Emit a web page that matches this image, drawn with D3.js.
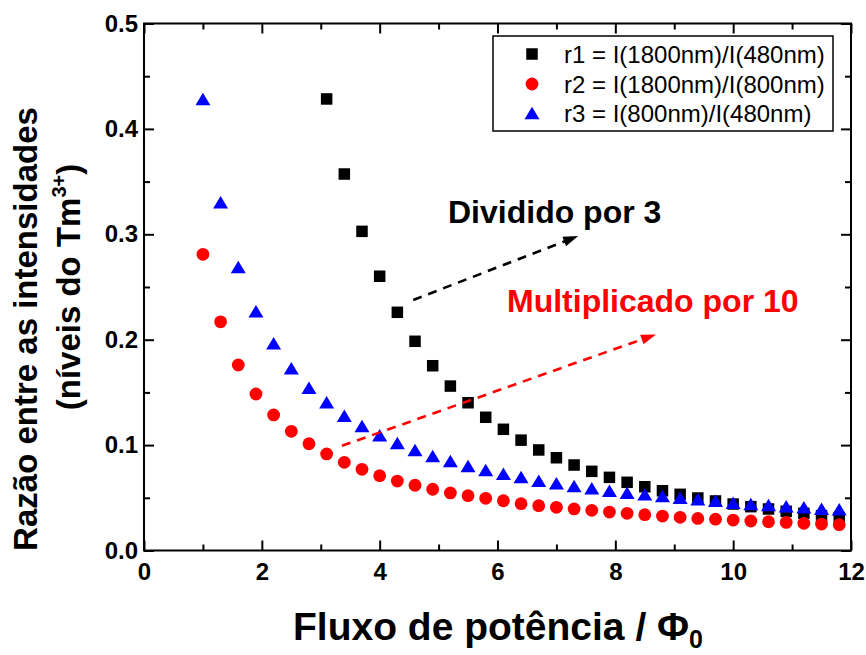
<!DOCTYPE html>
<html><head><meta charset="utf-8">
<script src="https://cdn.jsdelivr.net/npm/d3@7"></script>
<style>body{margin:0;background:#fff}svg{display:block}</style>
</head><body><svg id="c" width="866" height="655"></svg>
<script>
// ---- data ----
const xR1 = [3.1,3.4,3.7,4.0,4.3,4.6,4.9,5.2,5.5,5.8,6.1,6.4,6.7,7.0,7.3,7.6,7.9,8.2,8.5,8.8,9.1,9.4,9.7,10.0,10.3,10.6,10.9,11.2,11.5,11.8];
const r1 = [0.4284,0.3572,0.3028,0.2602,0.226,0.1985,0.1753,0.156,0.1402,0.1264,0.115,0.1047,0.0954,0.088,0.0811,0.0751,0.0694,0.0647,0.0605,0.0567,0.0533,0.0498,0.047,0.0441,0.0416,0.0394,0.0372,0.0353,0.033,0.0311];
const xR23 = [1.0,1.3,1.6,1.9,2.2,2.5,2.8,3.1,3.4,3.7,4.0,4.3,4.6,4.9,5.2,5.5,5.8,6.1,6.4,6.7,7.0,7.3,7.6,7.9,8.2,8.5,8.8,9.1,9.4,9.7,10.0,10.3,10.6,10.9,11.2,11.5,11.8];
const r2 = [0.281,0.217,0.176,0.1485,0.1286,0.1131,0.1013,0.0916,0.0837,0.077,0.071,0.0659,0.0619,0.0581,0.0546,0.052,0.0495,0.0472,0.0444,0.0425,0.041,0.0394,0.0381,0.0365,0.0353,0.034,0.0327,0.0315,0.0304,0.0297,0.0289,0.028,0.0273,0.0267,0.0258,0.0251,0.0245];
const r3 = [0.4284,0.3304,0.269,0.2269,0.1966,0.1729,0.1545,0.1406,0.1279,0.1181,0.1093,0.102,0.0954,0.0897,0.0849,0.0802,0.0764,0.0729,0.0697,0.0662,0.0637,0.0612,0.059,0.0567,0.0548,0.0533,0.0517,0.0501,0.0486,0.0472,0.0454,0.0441,0.0432,0.0419,0.041,0.0397,0.0391];
const xTicks = [0,2,4,6,8,10,12];
const xMinor = [1,3,5,7,9,11];
const yTicks = [0,0.1,0.2,0.3,0.4,0.5];
const yMinor = [0.05,0.15,0.25,0.35,0.45];
const legendLabels = ["r1 = I(1800nm)/I(480nm)","r2 = I(1800nm)/I(800nm)","r3 = I(800nm)/I(480nm)"];
const arrowBlack = [[4.57,0.2377],[7.37,0.2983]];
const arrowRed = [[3.36,0.0993],[8.69,0.205]];

// ---- layout ----
const svg = d3.select("#c");
const L=144, R=851, T=23.5, B=550.5;
const x = d3.scaleLinear().domain([0,12]).range([L,R]);
const y = d3.scaleLinear().domain([0,0.5]).range([B,T]);
const FONT = "'Liberation Sans', Arial, Helvetica, sans-serif";

// frame
svg.append("rect").attr("x",L).attr("y",T).attr("width",R-L).attr("height",B-T)
  .attr("fill","none").attr("stroke","#000").attr("stroke-width",2);

function styleAxis(g){ g.select(".domain").remove(); g.selectAll("line").attr("stroke","#000").attr("stroke-width",2); }
const tickFont = g => g.selectAll("text").attr("font-family",FONT).attr("font-weight","bold").attr("font-size",24).attr("fill","#000");

svg.append("g").attr("transform",`translate(0,${B})`)
  .call(d3.axisBottom(x).tickValues(xTicks).tickSize(-10).tickPadding(12).tickFormat(d3.format("d")))
  .call(styleAxis).call(tickFont);
svg.append("g").attr("transform",`translate(0,${B})`)
  .call(d3.axisBottom(x).tickValues(xMinor).tickSize(-6).tickFormat("")).call(styleAxis);
svg.append("g").attr("transform",`translate(0,${T})`)
  .call(d3.axisTop(x).tickValues(xTicks).tickSize(-10).tickFormat("")).call(styleAxis);
svg.append("g").attr("transform",`translate(0,${T})`)
  .call(d3.axisTop(x).tickValues(xMinor).tickSize(-6).tickFormat("")).call(styleAxis);
svg.append("g").attr("transform",`translate(${L},0)`)
  .call(d3.axisLeft(y).tickValues(yTicks).tickSize(-10).tickPadding(6).tickFormat(d3.format(".1f")))
  .call(styleAxis).call(tickFont);
svg.append("g").attr("transform",`translate(${L},0)`)
  .call(d3.axisLeft(y).tickValues(yMinor).tickSize(-6).tickFormat("")).call(styleAxis);
svg.append("g").attr("transform",`translate(${R},0)`)
  .call(d3.axisRight(y).tickValues(yTicks).tickSize(-10).tickFormat("")).call(styleAxis);
svg.append("g").attr("transform",`translate(${R},0)`)
  .call(d3.axisRight(y).tickValues(yMinor).tickSize(-6).tickFormat("")).call(styleAxis);

// markers
const sq = 11.5, cr = 6.4, tw = 15, th = 12.5;
const triPath = `M0,${-th/2}L${tw/2},${th/2}L${-tw/2},${th/2}Z`;
const gp = svg.append("g");
gp.selectAll(".s").data(r1.map((v,i)=>[xR1[i],v])).join("rect")
  .attr("x",d=>x(d[0])-sq/2).attr("y",d=>y(d[1])-sq/2).attr("width",sq).attr("height",sq).attr("fill","#000");
gp.selectAll(".c").data(r2.map((v,i)=>[xR23[i],v])).join("circle")
  .attr("cx",d=>x(d[0])).attr("cy",d=>y(d[1])).attr("r",cr).attr("fill","#ff0000");
gp.selectAll(".t").data(r3.map((v,i)=>[xR23[i],v])).join("path")
  .attr("d",triPath).attr("transform",d=>`translate(${x(d[0])},${y(d[1])})`).attr("fill","#0000ff");

// arrows
function arrow(pts,color){
  const [p0,p1] = pts.map(p=>[x(p[0]),y(p[1])]);
  const ang = Math.atan2(p1[1]-p0[1],p1[0]-p0[0]);
  const hl=15, hw=5;
  const bx = p1[0]-hl*Math.cos(ang), by = p1[1]-hl*Math.sin(ang);
  svg.append("line").attr("x1",p0[0]).attr("y1",p0[1]).attr("x2",bx+4*Math.cos(ang)).attr("y2",by+4*Math.sin(ang))
    .attr("stroke",color).attr("stroke-width",2.6).attr("stroke-dasharray","9,7");
  const nx=-Math.sin(ang), ny=Math.cos(ang);
  svg.append("path").attr("d",`M${p1[0]},${p1[1]}L${bx+hw*nx},${by+hw*ny}L${bx-hw*nx},${by-hw*ny}Z`).attr("fill",color);
}
arrow(arrowBlack,"#000");
arrow(arrowRed,"#ff0000");

// annotations
svg.append("text").attr("x",448).attr("y",223).attr("font-family",FONT).attr("font-weight","bold")
  .attr("font-size",32).attr("fill","#000").text("Dividido por 3");
svg.append("text").attr("x",507).attr("y",312).attr("font-family",FONT).attr("font-weight","bold")
  .attr("font-size",32).attr("fill","#ff0000").text("Multiplicado por 10");

// legend
svg.append("rect").attr("x",493).attr("y",36).attr("width",340).attr("height",95)
  .attr("fill","#fff").attr("stroke","#000").attr("stroke-width",1.5);
const ly = [54,84,113];
svg.append("rect").attr("x",532-sq/2).attr("y",ly[0]-sq/2).attr("width",sq).attr("height",sq).attr("fill","#000");
svg.append("circle").attr("cx",532).attr("cy",ly[1]).attr("r",cr).attr("fill","#ff0000");
svg.append("path").attr("d",triPath).attr("transform",`translate(532,${ly[2]})`).attr("fill","#0000ff");
legendLabels.forEach((t,i)=>{
  svg.append("text").attr("x",564).attr("y",ly[i]+8.5).attr("font-family",FONT).attr("font-size",24).attr("fill","#000").text(t);
});

// axis titles
const xt = svg.append("text").attr("x",498).attr("y",640).attr("text-anchor","middle")
  .attr("font-family",FONT).attr("font-weight","bold").attr("font-size",39).attr("fill","#000");
xt.append("tspan").text("Fluxo de potência / Φ");
xt.append("tspan").attr("font-size",25).attr("dy",8).text("0");

svg.append("text").attr("transform","translate(37,329) rotate(-90)").attr("text-anchor","middle")
  .attr("font-family",FONT).attr("font-weight","bold").attr("font-size",33).attr("fill","#000")
  .text("Razão entre as intensidades");
const yt2 = svg.append("text").attr("transform","translate(80,287) rotate(-90)").attr("text-anchor","middle")
  .attr("font-family",FONT).attr("font-weight","bold").attr("font-size",33).attr("fill","#000");
yt2.append("tspan").text("(níveis do Tm");
yt2.append("tspan").attr("font-size",20).attr("dy",-14).text("3+");
yt2.append("tspan").attr("dy",14).text(")");
</script></body></html>
